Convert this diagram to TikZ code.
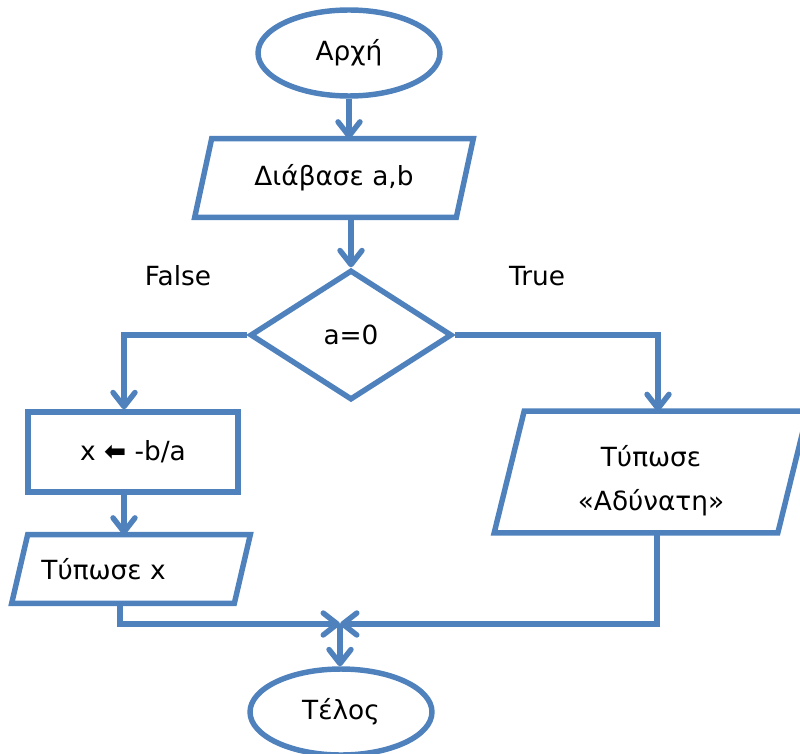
\documentclass[tikz,border=0pt]{standalone}
\usepackage{fontspec}
\setmainfont{DejaVu Sans}
\usetikzlibrary{shapes.geometric,arrows.meta}
\definecolor{fcblue}{HTML}{4F81BD}
\newcommand\iopoly[2]{\draw[shapeline] ([xshift=#2]#1.north west) -- (#1.north east) -- ([xshift=-#2]#1.south east) -- (#1.south west) -- cycle;}
\begin{document}
\begin{tikzpicture}[x=0.02cm,y=-0.02cm,
  every node/.style={font=\fontsize{15}{25}\selectfont, text=black},
  shapeline/.style={draw=fcblue, line width=3.1pt},
  term/.style={shapeline, ellipse, minimum width=3.64cm, minimum height=1.72cm, inner sep=0pt},
  iobox/.style={rectangle, inner sep=0pt},
  procbox/.style={shapeline, rectangle, minimum width=4.2cm, minimum height=1.6cm, inner sep=0pt},
  decbox/.style={shapeline, diamond, minimum width=4.04cm, minimum height=2.6cm, inner sep=0pt, aspect=1.55},
  flow/.style={draw=fcblue, line width=3.1pt, -{Straight Barb[length=8pt, width=12.5pt, round]}},
  lbl/.style={inner sep=0pt}
]
\useasboundingbox (0,0) rectangle (800,753);

\node[term] (start) at (349,53) {Αρχή};
\node[iobox, minimum width=5.56cm, minimum height=1.56cm] (read) at (334,178) {Διάβασε a,b};
\iopoly{read}{0.34cm}
\node[decbox] (dec) at (351,335) {a=0};
\node[procbox] (assign) at (133,452) {x {\bfseries ⬅} -b/a};
\node[iobox, minimum width=4.76cm, minimum height=1.36cm] (printx) at (131,569) {\hspace*{-1.1cm}Τύπωσε x};
\iopoly{printx}{0.32cm}
\node[iobox, minimum width=6.26cm, minimum height=2.42cm, align=center] (adyn) at (651,472) {\rule{0pt}{22pt}Τύπωσε\\«Αδύνατη»};
\iopoly{adyn}{0.6cm}
\node[term] (end) at (341,712) {Τέλος};

\node[lbl] (flbl) at (178,276) {False};
\node[lbl] (tlbl) at (537,276) {True};

\coordinate (fc) at (124,335);
\coordinate (tc) at (658,335);
\coordinate (join) at (340,624);
\coordinate (lc) at (120,624);
\coordinate (rc) at (657,624);

\draw[flow] (start.south) -- (start.south |- read.north);
\draw[flow] (dec.north |- read.south) -- (dec.north);
\draw[flow] (dec.west) -- (fc) -- (fc |- assign.north);
\draw[flow] (tc -| dec.east) -- (tc) -- (tc |- adyn.north);
\draw[flow] (fc |- assign.south) -- (fc |- printx.north);
\draw[flow] (lc |- printx.south) -- (lc) -- (join);
\draw[flow] (rc |- adyn.south) -- (rc) -- (join);
\draw[flow] (join) -- (join |- end.north);
\end{tikzpicture}
\end{document}
